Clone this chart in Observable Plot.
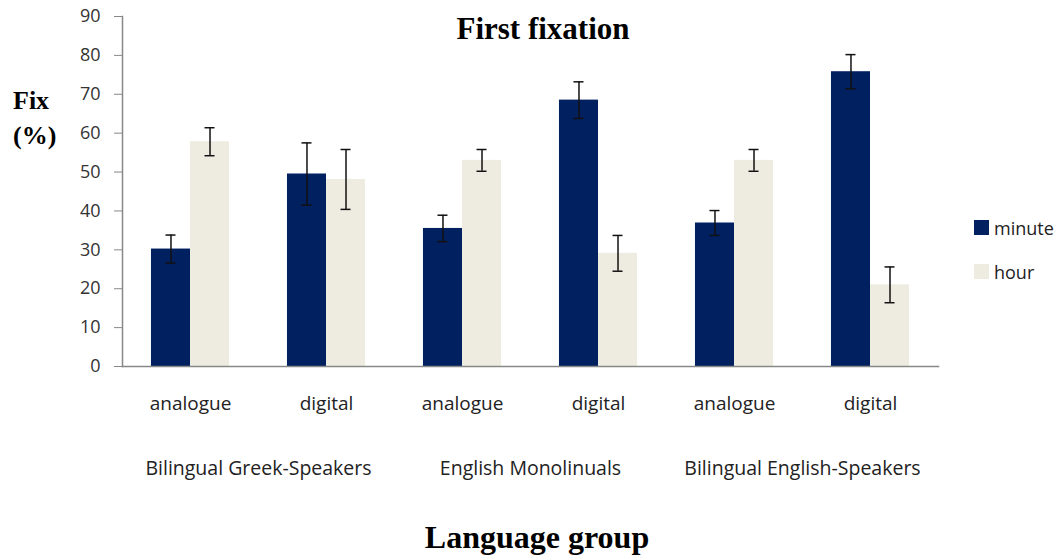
<!DOCTYPE html>
<html>
<head>
<meta charset="utf-8">
<script src="https://cdn.jsdelivr.net/npm/d3@7"></script>
<script src="https://cdn.jsdelivr.net/npm/@observablehq/plot@0.6"></script>
<style>
  body { margin: 0; background: #fff; }
  #wrap { position: relative; width: 1061px; height: 558px; overflow: hidden; }
  .serif { position: absolute; font-family: "Liberation Serif", "Times New Roman", serif; font-weight: bold; color: #000; line-height: 1; white-space: nowrap; }
  .leg { position: absolute; display: flex; align-items: center; font-family: "Open Sans", sans-serif; font-size: 18px; color: #222; height: 15px; }
  .sw { width: 15px; height: 15px; margin-right: 5px; }
</style>
</head>
<body>
<div id="wrap"></div>
<script>
// ---- data ----
const groups = ["Bilingual Greek-Speakers", "English Monolinuals", "Bilingual English-Speakers"];
const clockTypes = ["analogue", "digital"];
const series = ["minute", "hour"];
const minuteValues = [30.2, 49.5, 35.5, 68.5, 36.9, 75.8];
const minuteErrors = [3.6, 8.0, 3.4, 4.7, 3.2, 4.4];
const hourValues = [57.8, 48.1, 53.0, 29.1, 53.0, 21.0];
const hourErrors = [3.6, 7.7, 2.8, 4.6, 2.8, 4.6];
const yTicks = [0, 10, 20, 30, 40, 50, 60, 70, 80, 90];
const colors = {minute: "#002060", hour: "#EEECE1"};

// ---- build table ----
const conditions = [];
groups.forEach(g => clockTypes.forEach(t => conditions.push(g + "|" + t)));
const rows = [];
conditions.forEach((c, i) => {
  rows.push({cond: c, series: "minute", value: minuteValues[i], err: minuteErrors[i]});
  rows.push({cond: c, series: "hour", value: hourValues[i], err: hourErrors[i]});
});
const minuteRows = rows.filter(d => d.series === "minute");
const hourRows = rows.filter(d => d.series === "hour");
const groupRows = groups.map(g => ({cond: g + "|analogue", label: g}));

const W = 1061, H = 558;
const mL = 122, mR = 123, mT = 16, mB = 192;
const band = (W - mL - mR) / conditions.length; // 136
const barW = band * 0.287;                      // ~39
const gapL = band / 2 - barW;                  // left inset of minute bar
const capW = 10;
const capInMinL = gapL + barW / 2 - capW / 2;
const capInMinR = band / 2 + barW / 2 - capW / 2;

const plot = Plot.plot({
  width: W,
  height: H,
  marginLeft: mL,
  marginRight: mR,
  marginTop: mT,
  marginBottom: mB,
  style: {fontFamily: "Open Sans, sans-serif", fontSize: "18px", color: "#333", background: "transparent"},
  x: {domain: conditions, padding: 0, axis: null},
  y: {domain: [0, 90], axis: null},
  marks: [
    Plot.barY(minuteRows, {x: "cond", y: "value", fill: colors.minute, insetLeft: gapL, insetRight: band / 2}),
    Plot.barY(hourRows, {x: "cond", y: "value", fill: colors.hour, insetLeft: band / 2, insetRight: gapL}),
    // error bars
    Plot.ruleX(minuteRows, {x: "cond", y1: d => d.value - d.err, y2: d => d.value + d.err, dx: -barW / 2, stroke: "#111", strokeWidth: 1.5}),
    Plot.ruleX(hourRows, {x: "cond", y1: d => d.value - d.err, y2: d => d.value + d.err, dx: barW / 2, stroke: "#111", strokeWidth: 1.5}),
    Plot.tickY(minuteRows, {x: "cond", y: d => d.value + d.err, stroke: "#111", strokeWidth: 1.5, insetLeft: capInMinL, insetRight: capInMinR}),
    Plot.tickY(minuteRows, {x: "cond", y: d => d.value - d.err, stroke: "#111", strokeWidth: 1.5, insetLeft: capInMinL, insetRight: capInMinR}),
    Plot.tickY(hourRows, {x: "cond", y: d => d.value + d.err, stroke: "#111", strokeWidth: 1.5, insetLeft: capInMinR, insetRight: capInMinL}),
    Plot.tickY(hourRows, {x: "cond", y: d => d.value - d.err, stroke: "#111", strokeWidth: 1.5, insetLeft: capInMinR, insetRight: capInMinL}),
    // axes
    Plot.axisY({ticks: yTicks, tickSize: 8, tickPadding: 14, stroke: "#888", fill: "#333", fontSize: 18, label: null}),
    Plot.frame({anchor: "left", stroke: "#888", strokeWidth: 1.5}),
    Plot.frame({anchor: "bottom", stroke: "#888", strokeWidth: 1.5}),
    Plot.axisX({tickSize: 0, tickPadding: 30, tickFormat: d => d.split("|")[1], fill: "#222", fontSize: 19, label: null}),
    Plot.text(groupRows, {x: "cond", text: "label", frameAnchor: "bottom", dx: band / 2, dy: 108, fill: "#222", fontSize: 19.5}),
  ]
});

const wrap = document.getElementById("wrap");
wrap.appendChild(plot);

function addText(txt, cls, css) {
  const el = document.createElement("div");
  el.className = cls;
  el.textContent = txt;
  Object.assign(el.style, css);
  wrap.appendChild(el);
  return el;
}
addText("First fixation", "serif", {fontSize: "31px", top: "13px", left: "543px", transform: "translateX(-50%)"});
addText("Language group", "serif", {fontSize: "32px", top: "521px", left: "537px", transform: "translateX(-50%)"});
addText("Fix", "serif", {fontSize: "26px", top: "88px", left: "13px"});
addText("(%)", "serif", {fontSize: "26px", top: "123px", left: "13px"});

series.forEach((s, i) => {
  const el = document.createElement("div");
  el.className = "leg";
  el.style.left = "974px";
  el.style.top = (220 + i * 44) + "px";
  const sw = document.createElement("div");
  sw.className = "sw";
  sw.style.background = colors[s];
  const lab = document.createElement("span");
  lab.textContent = s;
  el.appendChild(sw);
  el.appendChild(lab);
  wrap.appendChild(el);
});
</script>
</body>
</html>
